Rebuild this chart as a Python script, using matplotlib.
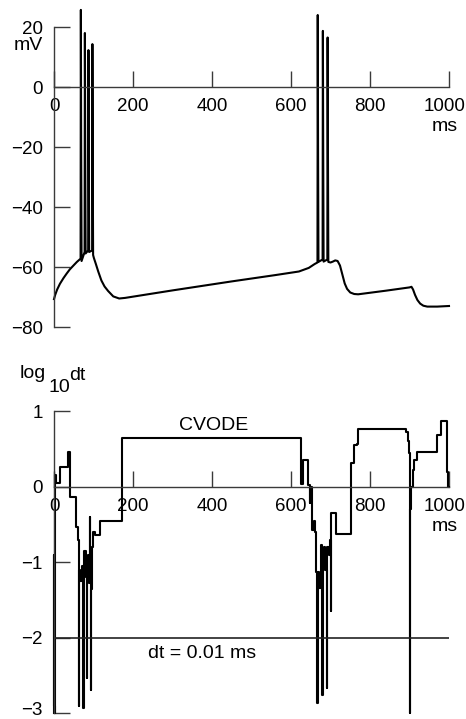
import numpy as np
import matplotlib
matplotlib.use('Agg')
import matplotlib.pyplot as plt
from matplotlib.transforms import ScaledTranslation

plt.rcParams['font.family'] = ['Liberation Sans', 'DejaVu Sans']
plt.rcParams['font.size'] = 14

# membrane potential, time in ms / voltage in mV
v_time = [0, 3, 8, 15, 24, 32, 40, 50, 58, 64, 67.3, 68.0, 68.8, 69.8,
          77.5, 78.2, 79.0, 80.0,
          86.5, 87.2, 88.0, 89.0,
          96.5, 97.2, 98.0, 99.0,
          101, 106, 112, 120, 128, 137, 150, 165, 180,
          300, 450, 560, 620, 645, 660, 667,
          667.7, 668.5, 669.5, 680, 680.7, 681.5, 682.5,
          692, 692.7, 693.5, 694.5,
          700, 706, 712, 718, 724, 730, 736, 742, 750, 760, 770,
          840, 900, 905, 909, 914, 920, 927, 935, 945, 970, 1000]
v_mv = [-70.7, -69.3, -67.5, -65.6, -63.7, -62.2, -60.8, -59.4, -58.3, -57.6, -57.2, 25.7, -20, -58,
        -55, 18, -20, -55.5,
        -54.5, 12.3, -20, -55,
        -54.5, 14.3, -20, -56,
        -57, -59, -61.5, -64.5, -66.5, -68, -69.8, -70.5, -70.3,
        -67.8, -64.8, -62.7, -61.5, -60.3, -59.0, -58.5,
        24, -20, -58.3, -57.5, 18.7, -20, -58.2,
        -57.5, 16.5, -20, -58.3,
        -58.5, -58.2, -57.8, -58, -59.5, -62.5, -65.5, -67.3, -68.5, -69.0, -69.1,
        -67.9, -66.8, -66.6, -67.5, -69.3, -71, -72.2, -72.9, -73.2, -73.2, -73.0]

# log10 of the CVODE step size (step changes, held until next time)
dt_time = [0, 0.6, 1.2, 1.8, 2.4, 3.0, 4.5, 14, 36, 41, 55, 60,
           63, 63.8, 66, 70, 74, 74.8, 77, 80, 83, 83.8, 86, 88, 90, 91.5, 94, 94.8, 96, 98,
           104, 116, 172,
           626, 631, 643, 647, 649, 652, 654, 657, 660, 663,
           667, 667.8, 670, 675, 679, 679.8, 683, 687, 691, 691.8, 695, 698, 701, 701.8,
           714, 753, 760, 766, 770, 890, 895, 899, 901, 902, 905, 908, 912, 918,
           969, 980, 996, 998, 1000]
dt_log = [-3.0, -0.9, -2.9, -0.5, -3.0, 0.15, 0.05, 0.26, 0.46, -0.13, -0.53, -0.7,
          -2.9, -1.1, -1.25, -1.05, -2.93, -1.0, -0.85, -1.2, -2.53, -1.2, -0.9, -1.28, -0.4, -1.0, -2.69, -1.36, -0.8, -0.6,
          -0.64, -0.45, 0.64,
          0.04, 0.36, 0.02, -0.22, 0.0, -0.4, -0.57, -0.45, -0.6, -1.13,
          -2.87, -1.13, -1.34, -0.77, -2.76, -1.0, -0.8, -1.1, -2.67, -0.8, -0.9, -0.7, -1.64, -0.35,
          -0.63, 0.31, 0.55, 0.57, 0.77, 0.72, 0.6, 0.45, -3.0, -0.3, 0.0, 0.22, 0.35, 0.46,
          0.68, 0.87, 0.2, 0.0, 0.0]

x_ticks = [0, 200, 400, 600, 800, 1000]
v_ticks = [20, 0, -20, -40, -60, -80]
dt_ticks = [1, 0, -1, -2, -3]
fixed_dt = -2  # log10(0.01 ms)

W, H = 466, 719
fig = plt.figure(figsize=(W / 100, H / 100), dpi=100)

# pixel anchors
px0, pxs = 54.0, 0.395        # x=0 pixel, pixels per ms
xlim = (-10, 1010)


def nudge(lab, dx, dy):
    # shift a tick label by a few pixels
    lab.set_transform(lab.get_transform() + ScaledTranslation(dx / 100, dy / 100, fig.dpi_scale_trans))


def make_axes(y_lim, y_zero_px, y_scale, y_ticks):
    left = (px0 + xlim[0] * pxs) / W
    width = (xlim[1] - xlim[0]) * pxs / W
    bot_px = y_zero_px - y_lim[0] * y_scale
    top_px = y_zero_px - y_lim[1] * y_scale
    ax = fig.add_axes([left, 1 - bot_px / H, width, (bot_px - top_px) / H])
    ax.set_xlim(*xlim)
    ax.set_ylim(*y_lim)
    ax.patch.set_alpha(0)
    for s in ['top', 'right']:
        ax.spines[s].set_visible(False)
    for s in ['left', 'bottom']:
        ax.spines[s].set_position(('data', 0))
        ax.spines[s].set_color('#3a3a3a')
        ax.spines[s].set_linewidth(1.0)
    ax.spines['bottom'].set_bounds(0, 1000)
    ax.spines['left'].set_bounds(min(y_ticks), max(y_ticks))
    ax.tick_params(direction='in', length=11.5, width=1.0, color='#3a3a3a', pad=8, labelsize=13.5)
    ax.set_xticks(x_ticks)
    ax.set_yticks(y_ticks)
    fig.canvas.draw()
    # last x label sits a little left of its tick, as in the original
    nudge(ax.get_xticklabels()[-1], -4, 0)
    return ax


# top: membrane potential
ax1 = make_axes((-82, 28), 87, 3.0, v_ticks)
ax1.plot(v_time, v_mv, color='black', lw=1.5, clip_on=False)
ax1.annotate('mV', xy=(0, 20), xytext=(-8, -13.5), textcoords='offset points',
             ha='right', va='center', fontsize=14)
ax1.annotate('ms', xy=(1000, 0), xytext=(-3, -32), textcoords='offset points',
             ha='center', va='baseline', fontsize=14)

# bottom: log10 dt
ax2 = make_axes((-3.05, 1.05), 486.7, 75.5, dt_ticks)
nudge(ax2.get_yticklabels()[-1], 0, 5)
ax2.step(dt_time, dt_log, where='post', color='black', lw=1.5, clip_on=False)
ax2.hlines(fixed_dt, 0, 1000, color='#222222', lw=1.2)
ax2.text(405, 0.75, 'CVODE', ha='center', va='baseline', fontsize=14)
ax2.text(376, -2.27, 'dt = 0.01 ms', ha='center', va='baseline', fontsize=14)
ax2.annotate('ms', xy=(1000, 0), xytext=(-3, -32), textcoords='offset points',
             ha='center', va='baseline', fontsize=14)

fig.text(20 / W, 1 - 378 / H, 'log', ha='left', va='baseline', fontsize=14)
fig.text(48 / W, 1 - 392 / H, '10', ha='left', va='baseline', fontsize=14)
fig.text(69 / W, 1 - 380 / H, 'dt', ha='left', va='baseline', fontsize=14)

fig.savefig('out.png', dpi=100)
